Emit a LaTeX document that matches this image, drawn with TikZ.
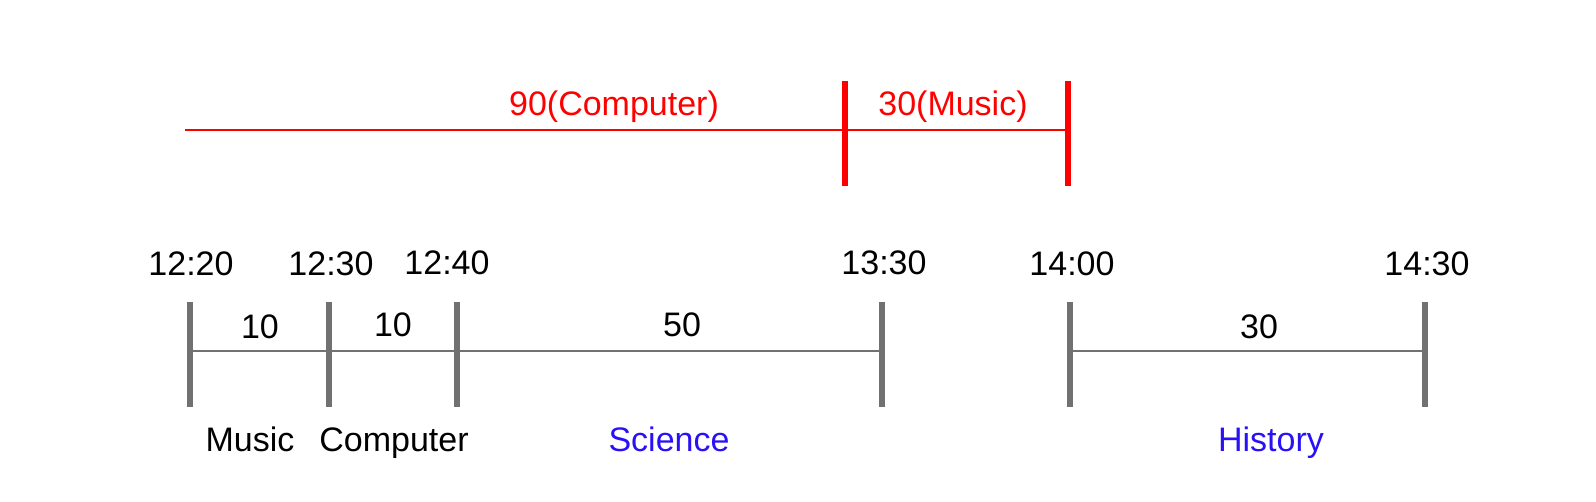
\documentclass[tikz,border=0pt]{standalone}
\usepackage{fontspec}
\setmainfont{Liberation Sans}
\definecolor{tickgray}{HTML}{717171}
\definecolor{subjblue}{HTML}{2A10F5}
\begin{document}
\begin{tikzpicture}[x=0.5pt,y=-0.5pt]
  \useasboundingbox (0,0) rectangle (1596,502);  % Rahmen wie Vorlage.
  \tikzstyle{label}=[font=\fontsize{17}{20}\selectfont, inner sep=0pt, anchor=base]
  \tikzstyle{subject}=[label, text=subjblue]
  \tikzstyle{total}=[label, text=red]
  \tikzstyle{span}=[draw=tickgray, line width=0.7pt]
  \tikzstyle{gtick}=[draw=tickgray, line width=3pt]
  \tikzstyle{rspan}=[draw=red, line width=0.7pt]
  \tikzstyle{rtick}=[draw=red, line width=2.6pt]

  % Zeitachse unten
  \foreach \n/\x in {a1/190, a2/329, a3/457, a4/882, a5/1070, a6/1425} {
    \coordinate (\n)     at (\x, 351);
    \coordinate (\n top) at (\x, 302);
    \coordinate (\n bot) at (\x, 407);
  }
  % rote Achse oben
  \coordinate (r0)     at (185,  130);
  \coordinate (r1)     at (845,  130);
  \coordinate (r1 top) at (845,  81);
  \coordinate (r1 bot) at (845,  186);
  \coordinate (r2)     at (1068, 130);
  \coordinate (r2 top) at (1068, 81);
  \coordinate (r2 bot) at (1068, 186);

  \path[span] (a1) edge (a2);
  \path[span] (a2) edge (a3);
  \path[span] (a3) edge (a4);
  \path[span] (a5) edge (a6);
  \foreach \n in {a1, a2, a3, a4, a5, a6}
    \draw[gtick] (\n top) -- (\n bot);

  \path[rspan] (r0) edge (r2);
  \draw[rtick] (r1 top) -- (r1 bot);
  \draw[rtick] (r2 top) -- (r2 bot);

  \node[label] (t1220) at (191,  276) {12:20};
  \node[label] (t1230) at (331,  276) {12:30};
  \node[label] (t1240) at (447,  275) {12:40};
  \node[label] (t1330) at (884,  275) {13:30};
  \node[label] (t1400) at (1072, 276) {14:00};
  \node[label] (t1430) at (1427, 276) {14:30};

  \node[label] (d1) at (260,  338) {10};
  \node[label] (d2) at (393,  336) {10};
  \node[label] (d3) at (682,  336) {50};
  \node[label] (d4) at (1259, 338) {30};

  \node[label]   (music)    at (250,  451) {Music};
  \node[label]   (computer) at (394,  451) {Computer};
  \node[subject] (science)  at (669,  451) {Science};
  \node[subject] (history)  at (1271, 451) {History};

  \node[total] (sum1) at (614, 116) {90(Computer)};
  \node[total] (sum2) at (953, 116) {30(Music)};
\end{tikzpicture}
\end{document}
